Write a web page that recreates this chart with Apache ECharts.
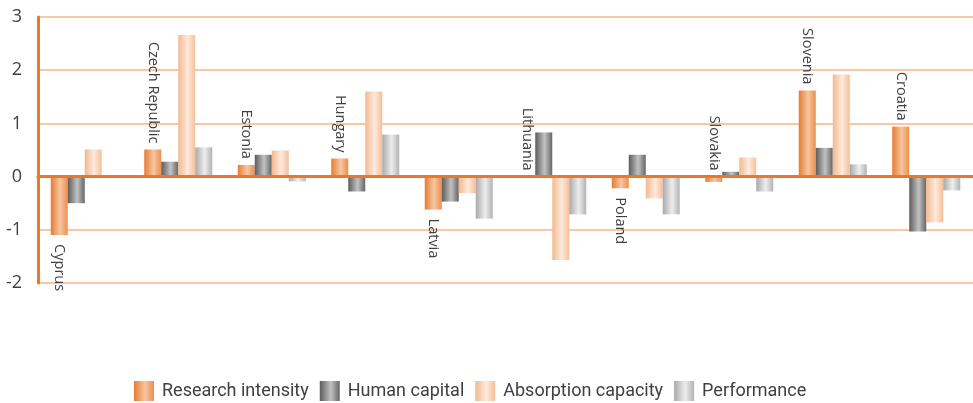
<!DOCTYPE html>
<html>
<head>
<meta charset="utf-8">
<script src="https://cdn.jsdelivr.net/npm/echarts@6/dist/echarts.min.js"></script>
<style>
html,body{margin:0;padding:0;background:#fff;}
#chart{width:973px;height:403px;}
</style>
</head>
<body>
<div id="chart"></div>
<script>
var categories = ['Cyprus','Czech Republic','Estonia','Hungary','Latvia','Lithuania','Poland','Slovakia','Slovenia','Croatia'];
var researchIntensity = [-1.1, 0.51, 0.22, 0.34, -0.62, 0, -0.22, -0.1, 1.62, 0.94];
var humanCapital = [-0.5, 0.28, 0.41, -0.28, -0.47, 0.83, 0.41, 0.09, 0.54, -1.03];
var absorptionCapacity = [0.51, 2.66, 0.49, 1.6, -0.31, -1.57, -0.41, 0.36, 1.92, -0.86];
var performance = [0, 0.55, -0.09, 0.79, -0.79, -0.71, -0.71, -0.28, 0.23, -0.26];
var seriesNames = ['Research intensity','Human capital','Absorption capacity','Performance'];
var yTicks = [-2, -1, 0, 1, 2, 3];

function grad(c0, c1, c2) {
  return new echarts.graphic.LinearGradient(0, 0, 1, 0, [
    {offset: 0, color: c0}, {offset: 0.55, color: c1}, {offset: 1, color: c2}
  ]);
}
var colors = [
  grad('#e67b33', '#f6c6a1', '#ec8f4d'),
  grad('#5c5c5c', '#c2c2c2', '#666666'),
  grad('#f4b88d', '#fdeadd', '#f5bf98'),
  grad('#a9a9a9', '#ededed', '#b3b3b3')
];

var labelFont = {fontFamily: '"Open Sans", sans-serif', fontSize: 14.5, color: '#404040'};
var researchData = researchIntensity.map(function (v, i) {
  var above = v > -0.15;
  return {
    value: v,
    label: Object.assign({
      show: true,
      formatter: categories[i],
      rotate: -90,
      position: above ? 'top' : 'bottom',
      distance: above ? 6 : 9,
      align: above ? 'right' : 'left',
      verticalAlign: 'middle'
    }, labelFont)
  };
});

var dataSets = [researchData, humanCapital, absorptionCapacity, performance];
var series = dataSets.map(function (d, k) {
  return {
    name: seriesNames[k],
    type: 'bar',
    data: d,
    barWidth: 17,
    barGap: '0%',
    itemStyle: {color: colors[k]},
    emphasis: {disabled: true},
    z: 2
  };
});

var chart = echarts.init(document.getElementById('chart'), null, {renderer: 'canvas'});
chart.setOption({
  animation: false,
  backgroundColor: '#ffffff',
  grid: {left: 38, top: 17, width: 941, height: 266, containLabel: false},
  legend: {
    left: 134,
    top: 381,
    padding: 0,
    itemWidth: 20,
    itemHeight: 20,
    itemGap: 11,
    icon: 'rect',
    data: seriesNames,
    textStyle: {fontFamily: 'Roboto, sans-serif', fontSize: 18, color: '#404040', padding: [0, 0, 0, 3]}
  },
  xAxis: {
    type: 'category',
    data: categories,
    axisLine: {show: true, onZero: true, lineStyle: {color: '#e8782a', width: 3}},
    axisTick: {show: false},
    axisLabel: {show: false},
    splitLine: {show: false},
    z: 5
  },
  yAxis: {
    type: 'value',
    min: yTicks[0],
    max: yTicks[yTicks.length - 1],
    interval: 1,
    axisLine: {show: true, lineStyle: {color: '#e8782a', width: 3}},
    axisTick: {show: false},
    axisLabel: {fontFamily: '"Open Sans", sans-serif', fontSize: 18, color: '#404040', margin: 16},
    splitLine: {show: true, lineStyle: {color: '#f5b68a', width: 1.5}}
  },
  series: series
});
</script>
</body>
</html>
